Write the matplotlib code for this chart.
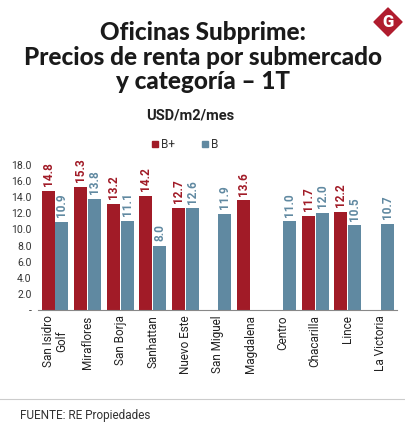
import numpy as np
import matplotlib.pyplot as plt
from matplotlib.patches import Polygon, Rectangle

plt.rcParams['font.family'] = ['Roboto', 'DejaVu Sans']

categories = ["San Isidro\nGolf", "Miraflores", "San Borja", "Sanhattan", "Nuevo Este",
              "San Miguel", "Magdalena", "Centro", "Chacarilla", "Lince", "La Victoria"]
b_plus = [14.8, 15.3, 13.2, 14.2, 12.7, np.nan, 13.6, np.nan, 11.7, 12.2, np.nan]
b_only = [10.9, 13.8, 11.1, 8.0, 12.6, 11.9, np.nan, 11.0, 12.0, 10.5, 10.7]
yticks = [0, 2, 4, 6, 8, 10, 12, 14, 16, 18]
ytick_labels = ["-"] + [f"{v:.1f}" for v in yticks[1:]]

red = "#a11b27"
blue = "#6089a1"

W, H = 406, 440
fig = plt.figure(figsize=(W / 100, H / 100), dpi=100)
ax = fig.add_axes([38 / W, 1 - 310 / H, (397 - 38) / W, (310 - 165) / H])

x = np.arange(len(categories))
w = 0.4
off = 0.215
ax.bar(x - off, b_plus, width=w, color=red)
ax.bar(x + off, b_only, width=w, color=blue)

for xi, v in zip(x, b_plus):
    if not np.isnan(v):
        ax.text(xi - off, v + 0.6, f"{v:.1f}", rotation=90, ha="center", va="bottom",
                color=red, fontsize=8.5, fontweight="bold", clip_on=False)
for xi, v in zip(x, b_only):
    if not np.isnan(v):
        ax.text(xi + off, v + 0.6, f"{v:.1f}", rotation=90, ha="center", va="bottom",
                color=blue, fontsize=8.5, fontweight="bold", clip_on=False)

ax.set_xlim(-0.523, 10.52)
ax.set_ylim(0, 18)
ax.set_yticks(yticks)
ax.set_yticklabels(ytick_labels, fontsize=7.5, color="#333333")
ax.set_xticks(x)
ax.set_xticklabels(categories, rotation=90, fontsize=8.5, color="#222222", linespacing=1.0)
ax.tick_params(axis="x", length=0, pad=4)
ax.tick_params(axis="y", length=0, pad=4.5)
for s in ["top", "right", "left"]:
    ax.spines[s].set_visible(False)
ax.spines["bottom"].set_color("#888888")
ax.spines["bottom"].set_linewidth(0.8)

# title block
fig.text(0.5, 1 - 21 / H, "Oficinas Subprime:\nPrecios de renta por submercado\ny categoría – 1T",
         ha="center", va="top", fontsize=17.5, fontweight="black", color="#1a1a1a",
         linespacing=1.08, family=["Lato", "Roboto", "DejaVu Sans"])
fig.text(190 / W, 1 - 115 / H, "USD/m2/mes", ha="center", va="center",
         fontsize=10.5, fontweight="bold", color="#222222")

# legend
fig.patches.append(Rectangle((152 / W, 1 - 147 / H), 6 / W, 6 / H,
                             transform=fig.transFigure, color=red))
fig.text(161 / W, 1 - 144 / H, "B+", ha="left", va="center", fontsize=8.5, color="#333333")
fig.patches.append(Rectangle((202 / W, 1 - 147 / H), 6 / W, 6 / H,
                             transform=fig.transFigure, color=blue))
fig.text(211 / W, 1 - 144 / H, "B", ha="left", va="center", fontsize=8.5, color="#333333")

# logo
cx, cy, r = 388, 22, 14
diamond = [(cx / W, 1 - (cy - r) / H), ((cx + r) / W, 1 - cy / H),
           (cx / W, 1 - (cy + r) / H), ((cx - r) / W, 1 - cy / H)]
fig.patches.append(Polygon(diamond, closed=True, transform=fig.transFigure,
                           color="#b01c2e", joinstyle="round"))
fig.text(cx / W, 1 - cy / H, "G", ha="center", va="center", fontsize=12,
         fontweight="black", color="white")

# footer
fig.add_artist(plt.Line2D([0, 1], [1 - 399 / H] * 2, transform=fig.transFigure,
                          color="#cccccc", linewidth=0.8))
fig.text(20 / W, 1 - 415 / H, "FUENTE: RE Propiedades", ha="left", va="center",
         fontsize=8.5, color="#333333")

fig.savefig("out.png", dpi=100)
